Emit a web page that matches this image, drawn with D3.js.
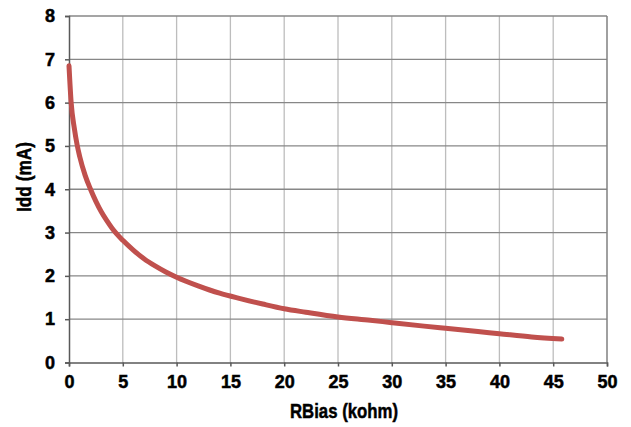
<!DOCTYPE html>
<html>
<head>
<meta charset="utf-8">
<script src="https://cdn.jsdelivr.net/npm/d3@7"></script>
<style>
html,body{margin:0;padding:0;background:#fff;}
svg text{font-family:"Liberation Sans",Arial,sans-serif;font-weight:bold;fill:#000;stroke:#000;stroke-width:0.5px;}
</style>
</head>
<body>
<svg id="chart" width="631" height="427"></svg>
<script>
const rbias = [0, 0.2, 0.5, 0.75, 1, 1.5, 2, 2.5, 3, 3.5, 4, 5, 6, 7, 8, 9, 10, 12, 14, 16, 18, 20, 22, 25, 28, 30, 33, 35, 38, 40, 43, 45.8];
const idd   = [6.85, 6.0, 5.4, 5.03, 4.75, 4.32, 4.0, 3.72, 3.48, 3.28, 3.1, 2.82, 2.59, 2.39, 2.23, 2.09, 1.97, 1.77, 1.6, 1.47, 1.35, 1.24, 1.16, 1.05, 0.975, 0.92, 0.84, 0.79, 0.715, 0.665, 0.59, 0.54];
const xTicks = [0, 5, 10, 15, 20, 25, 30, 35, 40, 45, 50];
const yTicks = [0, 1, 2, 3, 4, 5, 6, 7, 8];
const xTitle = "RBias (kohm)";
const yTitle = "Idd (mA)";

const svg = d3.select("#chart");
const L = 69, R = 607, T = 16, B = 362.5;
const x = d3.scaleLinear().domain([0, 50]).range([L, R]);
const y = d3.scaleLinear().domain([0, 8]).range([B, T]);

// vertical gridlines
svg.append("g").selectAll("line").data(xTicks.filter(d => d > 0 && d < 50)).join("line")
  .attr("x1", d => x(d)).attr("x2", d => x(d)).attr("y1", T).attr("y2", B)
  .attr("stroke", "#bdbdbd").attr("stroke-width", 1.3);
// horizontal gridlines
svg.append("g").selectAll("line").data(yTicks.filter(d => d > 0)).join("line")
  .attr("x1", L).attr("x2", R).attr("y1", d => y(d)).attr("y2", d => y(d))
  .attr("stroke", "#878787").attr("stroke-width", 1.3);
// right border
svg.append("line").attr("x1", R).attr("x2", R).attr("y1", T).attr("y2", B)
  .attr("stroke", "#808080").attr("stroke-width", 1.5);

// axes
const yAxis = svg.append("g").attr("transform", `translate(${L},0)`)
  .call(d3.axisLeft(y).tickValues(yTicks).tickFormat(d3.format("d")).tickSize(4).tickPadding(10));
const xAxis = svg.append("g").attr("transform", `translate(0,${B})`)
  .call(d3.axisBottom(x).tickValues(xTicks).tickFormat(d3.format("d")).tickSize(4).tickPadding(9));
[yAxis, xAxis].forEach(a => {
  a.select(".domain").attr("stroke", "#595959").attr("stroke-width", 1.5);
  a.selectAll(".tick line").attr("stroke", "#595959").attr("stroke-width", 1.5);
  a.selectAll(".tick text").attr("font-size", 18).attr("fill", "#000");
});

// data line
const line = d3.line().x((d, i) => x(rbias[i])).y(d => y(d)).curve(d3.curveMonotoneX);
svg.append("path").datum(idd).attr("d", line)
  .attr("fill", "none").attr("stroke", "#c0504d").attr("stroke-width", 5)
  .attr("stroke-linecap", "round").attr("stroke-linejoin", "round");

// titles
svg.append("text").attr("x", 344).attr("y", 418).attr("text-anchor", "middle")
  .attr("font-size", 21).attr("textLength", 108).attr("lengthAdjust", "spacingAndGlyphs").text(xTitle);
svg.append("text").attr("transform", "translate(31,177) rotate(-90)").attr("text-anchor", "middle")
  .attr("font-size", 21).attr("textLength", 70).attr("lengthAdjust", "spacingAndGlyphs").text(yTitle);
</script>
</body>
</html>
